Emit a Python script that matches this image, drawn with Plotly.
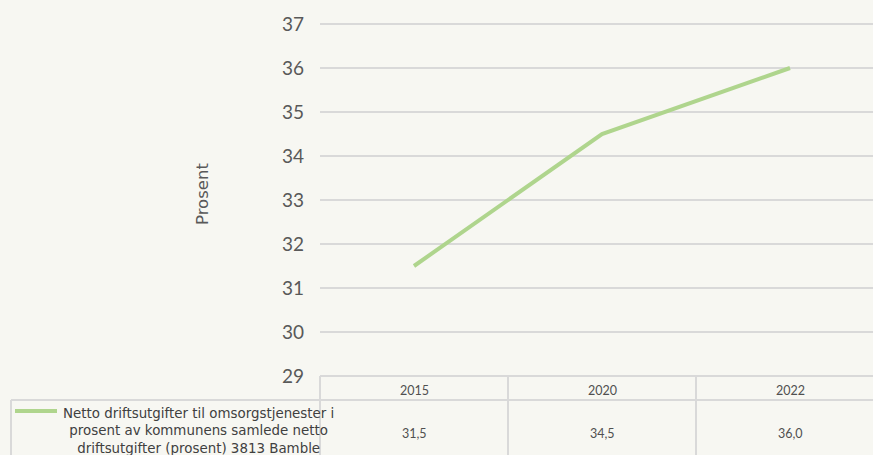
import plotly.graph_objects as go

years = ["2015", "2020", "2022"]
values = [31.5, 34.5, 36.0]
series_name = "Netto driftsutgifter til omsorgstjenester i<br>prosent av kommunens samlede netto<br>driftsutgifter (prosent) 3813 Bamble"
y_ticks = [29, 30, 31, 32, 33, 34, 35, 36, 37]
y_title = "Prosent"

W, H = 873, 455
L = 320            # plot-area left edge (px)
B = 376            # pixel of y=29
Y37 = 24           # pixel of y=37
T = 22             # plot-area top (px), slightly above 37 so the top gridline shows
UNIT = (B - Y37) / 8.0
y_top = 37 + (Y37 - T) / UNIT
COL = 188.0        # category column width (px)

BG = "#F7F7F2"
GRID = "#D9D9D9"
LINE = "#AFD58D"
FONT_NUM = "Lato, 'Open Sans', sans-serif"
FONT_TXT = "'DejaVu Sans', Verdana, sans-serif"

def px_x(p):
    return (p - L) / (W - L)

def px_y(p):
    return (B - p) / (B - T)

x_idx = list(range(len(years)))

fig = go.Figure()
fig.add_trace(go.Scatter(
    x=x_idx, y=values, mode="lines",
    line=dict(color=LINE, width=4),
    showlegend=False, hoverinfo="skip",
))

shapes = []
annotations = []
ls = dict(color=GRID, width=2)
row1_bot = 400
row2_bot = 456
# horizontal table lines
shapes.append(dict(type="line", xref="paper", yref="paper", x0=0, x1=1, y0=0, y1=0, line=ls))
shapes.append(dict(type="line", xref="paper", yref="paper", x0=px_x(11), x1=1, y0=px_y(row1_bot), y1=px_y(row1_bot), line=ls))
# vertical table lines
shapes.append(dict(type="line", xref="paper", yref="paper", x0=0, x1=0, y0=0, y1=px_y(row2_bot), line=ls))
shapes.append(dict(type="line", xref="paper", yref="paper", x0=px_x(11), x1=px_x(11), y0=px_y(row1_bot), y1=px_y(row2_bot), line=ls))
for i in x_idx[:-1]:
    shapes.append(dict(type="line", xref="x", yref="paper", x0=i + 0.5, x1=i + 0.5, y0=0, y1=px_y(row2_bot), line=ls))
# legend key
shapes.append(dict(type="line", xref="paper", yref="paper", x0=px_x(15), x1=px_x(57), y0=px_y(411), y1=px_y(411),
                   line=dict(color=LINE, width=4)))

for i, (yr, v) in enumerate(zip(years, values)):
    annotations.append(dict(x=i, xref="x", y=px_y(391), yref="paper", text=yr, showarrow=False,
                            font=dict(family=FONT_NUM, size=12.5, color="#505050"), xanchor="center", yanchor="middle"))
    annotations.append(dict(x=i, xref="x", y=px_y(433), yref="paper", text=f"{v:.1f}".replace(".", ","), showarrow=False,
                            font=dict(family=FONT_NUM, size=12.5, color="#505050"), xanchor="center", yanchor="middle"))

annotations.append(dict(x=px_x(198), xref="paper", y=px_y(431), yref="paper", text=series_name, showarrow=False,
                        font=dict(family=FONT_TXT, size=13.4, color="#404040"), align="center",
                        xanchor="center", yanchor="middle"))
annotations.append(dict(x=px_x(202), xref="paper", y=px_y(194), yref="paper", text=y_title, showarrow=False, textangle=-90,
                        font=dict(family=FONT_TXT, size=16.5, color="#595959"), xanchor="center", yanchor="middle"))

fig.update_layout(
    width=W, height=H,
    margin=dict(l=L, r=0, t=T, b=H - B, pad=0),
    paper_bgcolor=BG, plot_bgcolor=BG,
    shapes=shapes, annotations=annotations,
    xaxis=dict(range=[-0.5, -0.5 + (W - L) / COL], showgrid=False, zeroline=False, showticklabels=False,
               showline=False, fixedrange=True),
    yaxis=dict(range=[29, y_top], tickvals=y_ticks, ticktext=[str(t) for t in y_ticks], showgrid=True,
               gridcolor=GRID, gridwidth=2, zeroline=False, showline=False, ticks="", ticklabelstandoff=15,
               tickfont=dict(family=FONT_NUM, size=19, color="#595959"), fixedrange=True),
    showlegend=False,
)

fig.write_html("out.html", config={"displayModeBar": False},
               post_script="document.body.style.margin='0';document.body.style.overflow='hidden';")
